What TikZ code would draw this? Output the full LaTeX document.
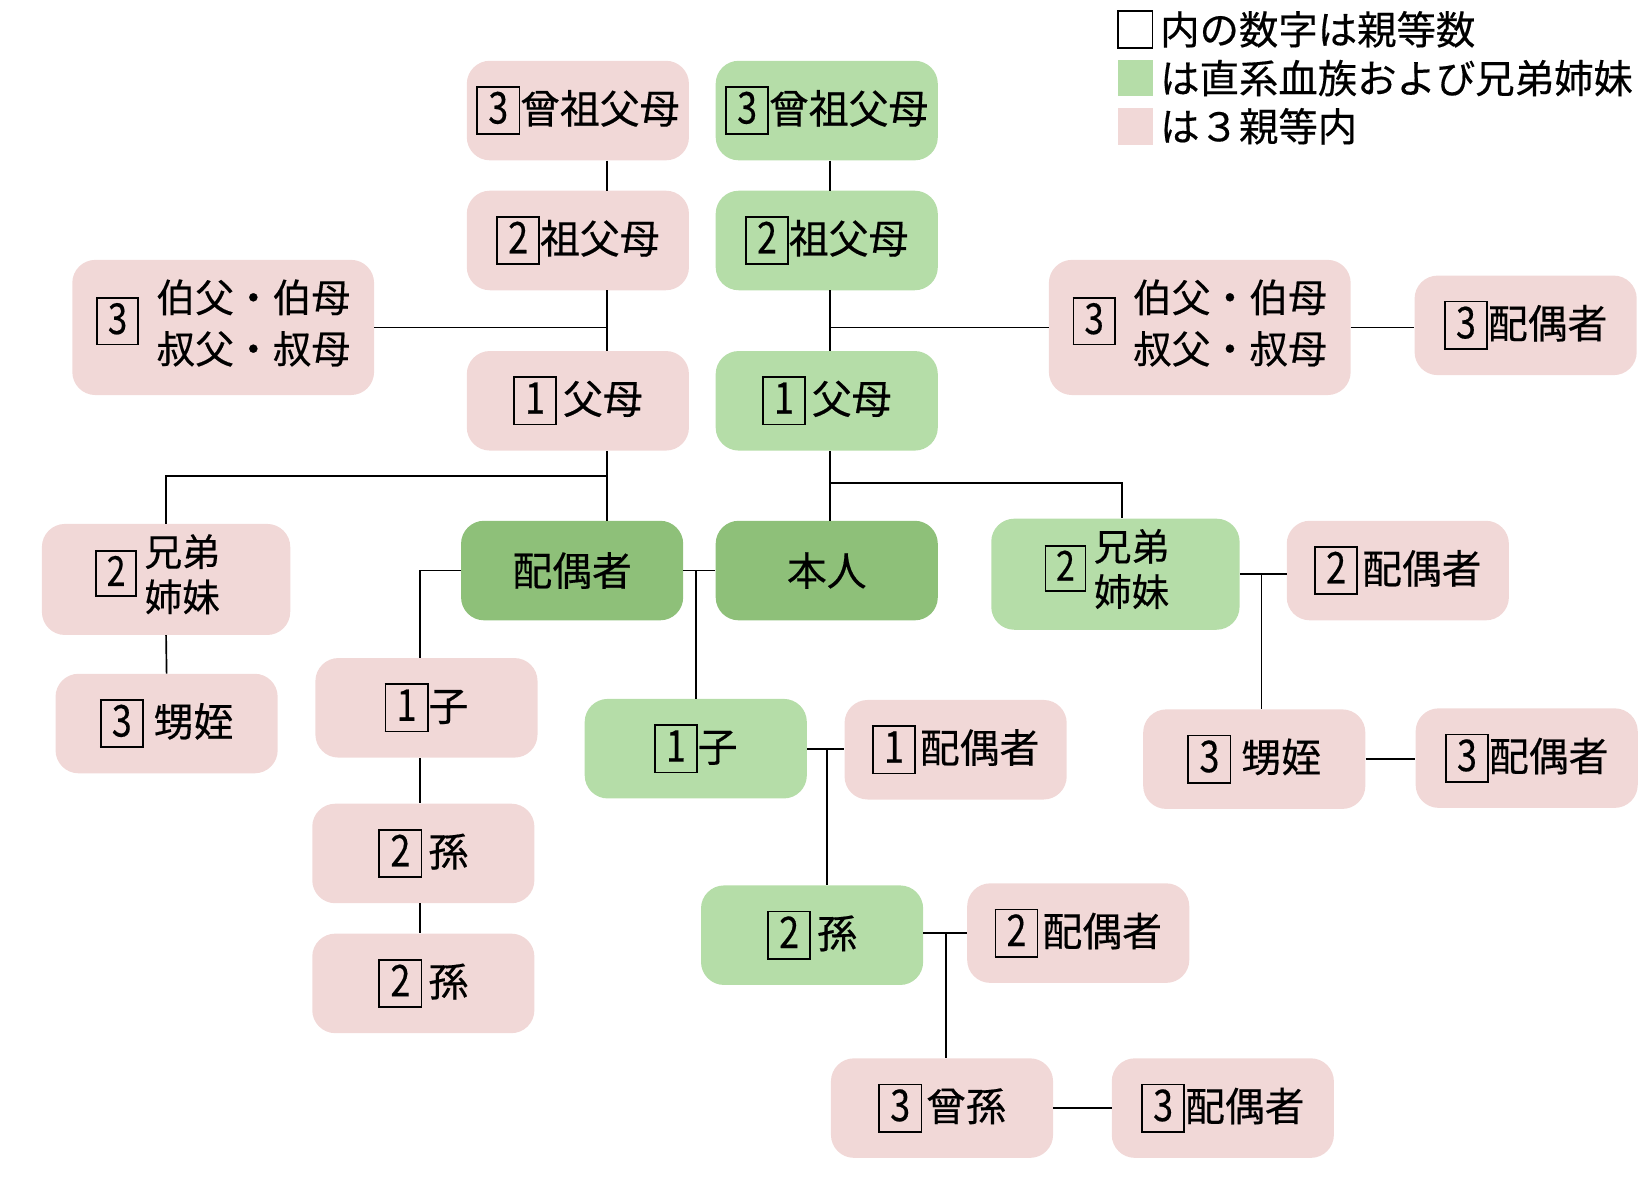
\documentclass[tikz,border=0pt]{standalone}
\usepackage{fontspec}
\setmainfont{Noto Sans CJK JP}[UprightFeatures={FakeBold=0.4}]
\usepackage{graphicx}
\usepackage{tikz}
\usetikzlibrary{calc}

\definecolor{kinpink}{RGB}{241,216,215}
\definecolor{kingreen}{RGB}{181,221,168}
\definecolor{selfgreen}{RGB}{142,192,121}

\setlength{\fboxsep}{0pt}
\setlength{\fboxrule}{1.6pt}
\newcommand{\rank}[1]{\fbox{\makebox[1.02em]{\rule[-0.25em]{0pt}{1.15em}\scalebox{0.9}[1.1]{#1}}}}
\newcommand{\twolines}[2]{\begin{tabular}{@{}l@{}}#1\\#2\end{tabular}}

\begin{document}
\begin{tikzpicture}[x=1pt, y=-1pt,
  kinbox/.style={rounded corners=22pt, minimum width=212pt, minimum height=95pt,
    inner sep=0pt, font=\fontsize{38}{46}\selectfont},
  pinkbox/.style={kinbox, fill=kinpink},
  greenbox/.style={kinbox, fill=kingreen},
  selfbox/.style={kinbox, fill=selfgreen},
  uncbox/.style={minimum width=288pt, minimum height=129pt, font=\fontsize{37}{49}\selectfont},
  sibbox/.style={minimum width=237pt, minimum height=106pt, font=\fontsize{36}{43}\selectfont},
  keybox/.style={minimum width=33pt, minimum height=35pt, inner sep=0pt},
  keytext/.style={anchor=west, inner sep=0pt, font=\fontsize{37.6}{44}\selectfont},
  link/.style={line width=1.6pt}]
\useasboundingbox (0,0) rectangle (1568,1125);

% legend
\node[keybox, draw, line width=1.6pt] (keyrank) at (1083.5,28) {};
\node[keybox, fill=kingreen] (keygreen) at (1083.5,74.5) {};
\node[keybox, fill=kinpink] (keypink) at (1083.5,120.5) {};
\node[keytext] (keyranktext) at (1107,28) {内の数字は親等数};
\node[keytext] (keygreentext) at (1107,74.5) {は直系血族および兄弟姉妹};
\node[keytext] (keypinktext) at (1107,120.5) {は３親等内};

% ancestors
\node[pinkbox] (ggpL) at (551.5,105.5) {\rank{3}曾祖父母};
\node[greenbox] (ggpR) at (789,105.5) {\rank{3}曾祖父母};
\node[pinkbox] (gpL) at (551.5,229.5) {\rank{2}祖父母};
\node[greenbox] (gpR) at (789,229.5) {\rank{2}祖父母};
\node[pinkbox] (parL) at (551.5,382.5) {\rank{1}\hspace{0.15em}父母};
\node[greenbox] (parR) at (789,382.5) {\rank{1}\hspace{0.15em}父母};
\node[pinkbox, uncbox] (uncL) at (213,312.5)
  {\rank{3}\hspace{0.45em}\twolines{伯父・伯母}{叔父・叔母}};
\node[pinkbox, uncbox] (uncR) at (1145,312.5)
  {\rank{3}\hspace{0.45em}\twolines{伯父・伯母}{叔父・叔母}};
\node[pinkbox] (uncRsp) at (1456,310.5) {\rank{3}配偶者};

% own generation
\node[pinkbox, sibbox] (sibL) at (158.5,553) {\rank{2}\hspace{0.2em}\twolines{兄弟}{姉妹}\rule{0.45em}{0pt}};
\node[selfbox] (spouse) at (546,544.5) {配偶者};
\node[selfbox] (self) at (789,544.5) {本人};
\node[greenbox, sibbox] (sibR) at (1064.5,548) {\rank{2}\hspace{0.2em}\twolines{兄弟}{姉妹}\rule{0.45em}{0pt}};
\node[pinkbox] (sibRsp) at (1334,544.5) {\rank{2}\hspace{0.1em}配偶者};
\node[pinkbox] (nepL) at (159,690.5) {\rank{3}\hspace{0.25em}甥姪};
\node[pinkbox] (nepR) at (1197,724.5) {\rank{3}\hspace{0.25em}甥姪};
\node[pinkbox] (nepRsp) at (1457,723.5) {\rank{3}配偶者};

% descendants
\node[pinkbox] (childL) at (407,675.5) {\rank{1}子};
\node[greenbox] (childR) at (664,714.5) {\rank{1}子};
\node[pinkbox] (childRsp) at (912,715.5) {\rank{1}\hspace{0.1em}配偶者};
\node[pinkbox] (gcL1) at (404,814.5) {\rank{2}\hspace{0.15em}孫};
\node[pinkbox] (gcL2) at (404,938.5) {\rank{2}\hspace{0.15em}孫};
\node[greenbox] (gcR) at (775,892.5) {\rank{2}\hspace{0.15em}孫};
\node[pinkbox] (gcRsp) at (1029,890.5) {\rank{2}\hspace{0.1em}配偶者};
\node[pinkbox] (ggc) at (899,1057.5) {\rank{3}\hspace{0.1em}曾孫};
\node[pinkbox] (ggcsp) at (1167,1057.5) {\rank{3}配偶者};

\coordinate (trunkL) at (579,0);
\coordinate (trunkR) at (792,0);
\coordinate (sibbarL) at (0,454);
\coordinate (sibbarR) at (1071,461);
\coordinate (lineC) at (401,0);
\coordinate (lineN) at (1204,0);
\coordinate (lineG) at (789,0);
\coordinate (lineGG) at (903,0);

\draw[link] (ggpL.south -| trunkL) -- (gpL.north -| trunkL);
\draw[link] (gpL.south -| trunkL) -- (parL.north -| trunkL);
\draw[link] (uncL.east) -- (uncL.east -| trunkL);
\draw[link] (parL.south -| trunkL) -- (spouse.north -| trunkL);
\draw[link] (sibbarL -| trunkL) -| (sibL.north);
\draw[link] (sibL.south) -- (nepL.north);

\draw[link] (ggpR.south -| trunkR) -- (gpR.north -| trunkR);
\draw[link] (gpR.south -| trunkR) -- (parR.north -| trunkR);
\draw[link] (uncR.west -| trunkR) -- (uncR.west);
\draw[link] (uncR.east) -- (uncR.east -| uncRsp.west);
\draw[link] (parR.south -| trunkR) -- (self.north -| trunkR);
\draw[link] (sibbarR -| trunkR) -- (sibbarR) -- (sibR.north -| sibbarR);

\draw[link] (spouse.east) -- (self.west);
\draw[link] (spouse.east -| childR.north) -- (childR.north);
\draw[link] (spouse.west) -| (childL.north -| lineC);
\draw[link] (childL.south -| lineC) -- (gcL1.north -| lineC);
\draw[link] (gcL1.south -| lineC) -- (gcL2.north -| lineC);

\draw[link] (sibR.east) -- (sibR.east -| sibRsp.west);
\draw[link] (sibR.east -| lineN) -- (nepR.north -| lineN);
\draw[link] (nepR.east) -- (nepR.east -| nepRsp.west);

\draw[link] (childR.east) -- (childR.east -| childRsp.west);
\draw[link] (childR.east -| lineG) -- (gcR.north -| lineG);
\draw[link] (gcRsp.west -| gcR.east) -- (gcRsp.west);
\draw[link] (gcRsp.west -| lineGG) -- (ggc.north -| lineGG);
\draw[link] (ggc.east) -- (ggcsp.west);

\end{tikzpicture}
\end{document}
